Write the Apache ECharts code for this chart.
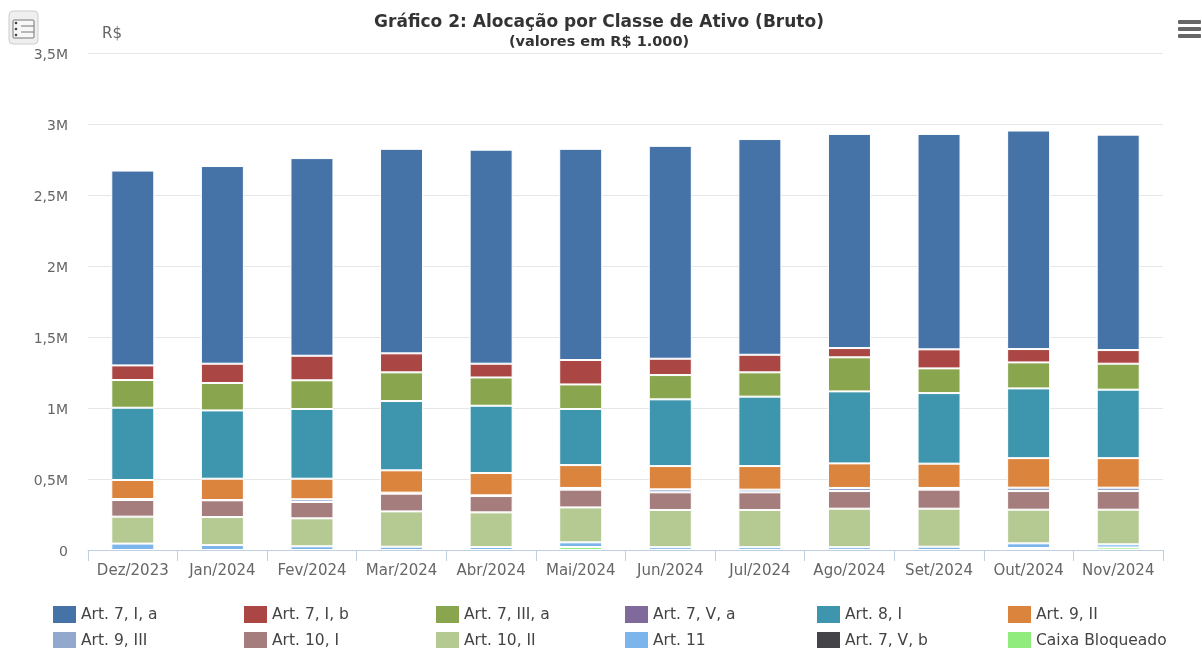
<!DOCTYPE html>
<html><head><meta charset="utf-8">
<style>html,body{margin:0;padding:0;background:#fff}#c{width:1202px;height:648px}</style>
<script src="https://cdn.jsdelivr.net/npm/echarts@6/dist/echarts.min.js"></script>
</head><body><div id="c"></div>
<script>
const categories = ['Dez/2023','Jan/2024','Fev/2024','Mar/2024','Abr/2024','Mai/2024','Jun/2024','Jul/2024','Ago/2024','Set/2024','Out/2024','Nov/2024'];
const art7Ia   = [1372,1392,1392,1440,1507,1487,1499,1519,1508,1517,1539,1517];
const art7Ib   = [103,136,173,134,97,172,115,124,65,134,94,96];
const art7IIIa = [195,193,202,202,199,173,171,171,240,174,183,183];
const art7Va   = [null,null,null,null,null,null,null,null,null,null,null,null];
const art8I    = [509,481,491,488,474,395,470,489,507,497,491,482];
const art9II   = [134,150,145,157,157,161,164,166,173,171,208,208];
const art9III  = [7,2,19,7,5,12,21,19,22,12,24,24];
const art10I   = [117,118,115,125,115,125,124,124,124,134,131,131];
const art10II  = [190,197,197,249,244,246,262,262,271,268,237,244];
const art11    = [45,35,26,23,21,33,20,20,20,23,33,22];
const art7Vb   = [null,null,null,null,null,null,null,null,null,null,null,null];
const caixa    = [null,null,null,null,null,21,null,null,null,null,14,18];
const names  = ['Art. 7, I, a','Art. 7, I, b','Art. 7, III, a','Art. 7, V, a','Art. 8, I','Art. 9, II','Art. 9, III','Art. 10, I','Art. 10, II','Art. 11','Art. 7, V, b','Caixa Bloqueado'];
const colors = ['#4572A7','#AA4643','#89A54E','#80699B','#3D96AE','#DB843D','#92A8CD','#A47D7C','#B5CA92','#7CB5EC','#434348','#90ED7D'];
const values = [art7Ia,art7Ib,art7IIIa,art7Va,art8I,art9II,art9III,art10I,art10II,art11,art7Vb,caixa];
const FONT = '"DejaVu Sans", sans-serif';
const legendX = [53,244,436,625,817,1008], legendY = [606,632];
const series = names.map((n,i)=>({name:n,type:'bar',stack:'a',data:values[i],barWidth:43,
  itemStyle:{color:colors[i],borderColor:'#fff',borderWidth:1}})).reverse();
const legend = names.map((n,i)=>({data:[n],left:legendX[i%6],top:legendY[Math.floor(i/6)],padding:0,
  itemWidth:23,itemHeight:17,icon:'rect',selectedMode:false,itemStyle:{borderWidth:0},
  textStyle:{fontFamily:FONT,fontSize:15.5,color:'#444'}}));
const chart = echarts.init(document.getElementById('c'),null,{renderer:'canvas'});
chart.setOption({
  animation:false,
  color:colors,
  title:[
    {text:'Gráfico 2: Alocação por Classe de Ativo (Bruto)',left:599,textAlign:'center',top:14,padding:0,
     textStyle:{fontFamily:FONT,fontSize:17,fontWeight:'bold',color:'#333'}},
    {text:'(valores em R$ 1.000)',left:599,textAlign:'center',top:35,padding:0,
     textStyle:{fontFamily:FONT,fontSize:14.5,fontWeight:'bold',color:'#333'}}
  ],
  legend,
  grid:{left:88,right:39,top:53,bottom:98,containLabel:false},
  xAxis:{type:'category',data:categories,
    axisLine:{lineStyle:{color:'#C0D0E0',width:1}},
    axisTick:{show:true,alignWithLabel:false,length:11,lineStyle:{color:'#C0D0E0'}},
    axisLabel:{fontFamily:FONT,fontSize:15,color:'#666',margin:14,interval:0},
    splitLine:{show:false}},
  yAxis:{type:'value',min:0,max:3500,interval:500,
    name:'R$',nameLocation:'end',nameGap:11,
    nameTextStyle:{fontFamily:FONT,fontSize:15,color:'#666',align:'left',padding:[0,0,0,14]},
    axisLine:{show:false},axisTick:{show:false},
    axisLabel:{margin:20,
      rich:{v:{fontFamily:FONT,fontSize:14,color:'#666',padding:[4,0,0,0]}},
      formatter:v=>'{v|'+(v===0?'0':String(v/1000).replace('.',',')+'M')+'}'},
    splitLine:{lineStyle:{color:'#E6E6E6',width:1}}},
  series,
  graphic:[
    {type:'rect',shape:{x:9,y:11,width:29,height:33,r:4},style:{fill:'#EFEFEF',stroke:'#CCCCCC',lineWidth:1}},
    {type:'rect',shape:{x:13,y:20,width:21,height:18,r:1},style:{fill:'#F7F7F7',stroke:'#777',lineWidth:1}},
    {type:'line',shape:{x1:21,y1:26,x2:34,y2:26},style:{stroke:'#777',lineWidth:1}},
    {type:'line',shape:{x1:21,y1:32,x2:34,y2:32},style:{stroke:'#777',lineWidth:1}},
    {type:'circle',shape:{cx:16,cy:23,r:1.3},style:{fill:'#444'}},
    {type:'circle',shape:{cx:16,cy:29,r:1.3},style:{fill:'#444'}},
    {type:'circle',shape:{cx:16,cy:35,r:1.3},style:{fill:'#444'}},
    {type:'rect',shape:{x:1178,y:20,width:23,height:4,r:1},style:{fill:'#666'}},
    {type:'rect',shape:{x:1178,y:27,width:23,height:4,r:1},style:{fill:'#666'}},
    {type:'rect',shape:{x:1178,y:34,width:23,height:4,r:1},style:{fill:'#666'}}
  ]
});
</script></body></html>
